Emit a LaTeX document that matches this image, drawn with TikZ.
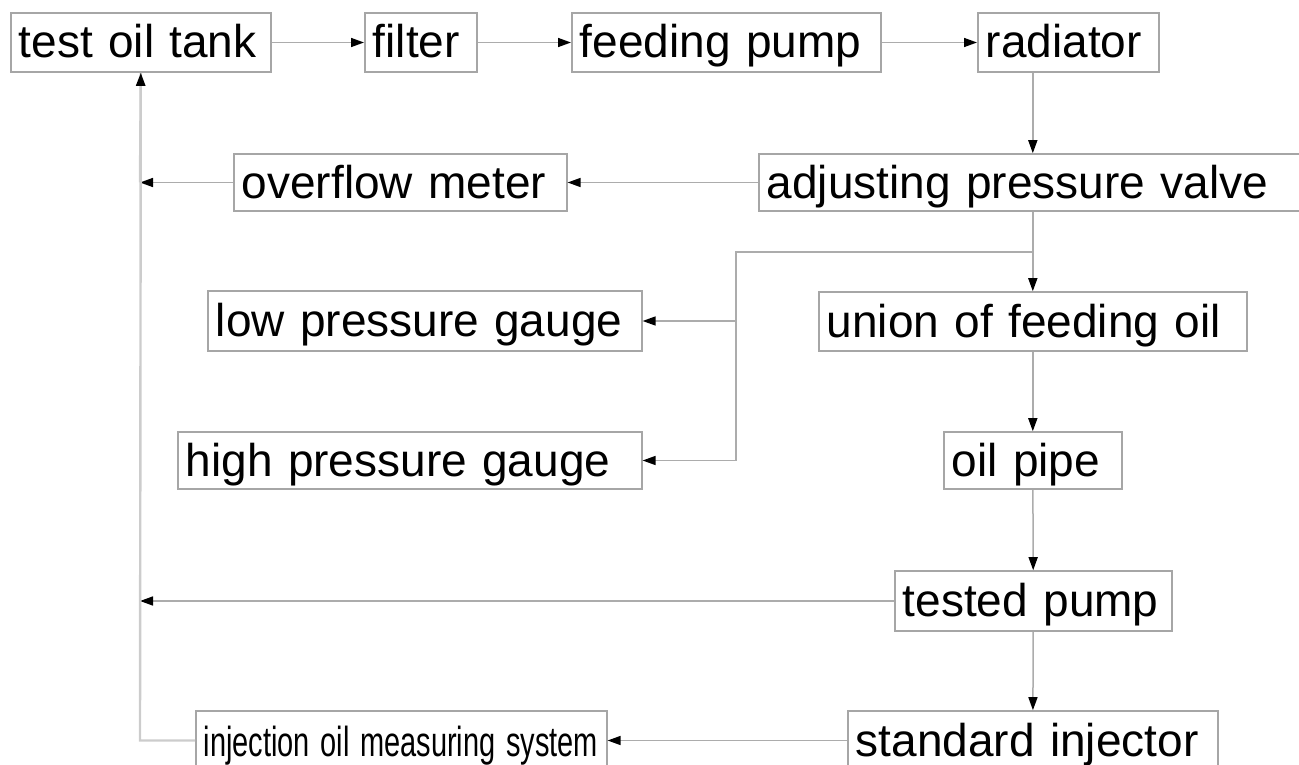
\documentclass[tikz,border=0pt]{standalone}
\usepackage{fontspec}
\setmainfont{Liberation Sans}
\usetikzlibrary{arrows.meta}

\begin{document}
\begin{tikzpicture}[x=1pt, y=-1pt,
    box/.style={draw=gray!70, line width=1.6pt, anchor=west, inner xsep=8pt,
        inner ysep=0pt, align=left, text height=40pt, text depth=9pt,
        font=\fontsize{46pt}{50pt}\selectfont},
    line/.style={draw=gray!65, line width=1.5pt},
    arr/.style={line, -{Triangle[length=13pt, width=9pt, color=black]}},
    back/.style={draw=gray!40, line width=2.4pt}]
        \useasboundingbox (0,0) rectangle (1299,765);

        % boxes: name/left/middle y/width/height/text
        \foreach \nm/\lx/\my/\bw/\bh/\txt in {
            tank/10/42.5/260/59/test oil tank,
            filter/364/42.5/112/59/filter,
            feed/571/42.5/309/59/feeding pump,
            rad/977/42.5/181/59/radiator,
            over/233/182.5/333/57/overflow meter,
            adj/758/182.5/547/57/adjusting pressure valve,
            low/207/321/434/60/low pressure gauge,
            union/818/321.5/428/59/union of feeding oil,
            high/177/460.5/464/57/high pressure gauge,
            pipe/943/460.5/178/57/oil pipe,
            tested/894/601/277/60/tested pump,
            std/847/740.5/370/59/standard injector}
            {
                \pgfmathsetmacro{\tw}{\bw-16}
                \node[box, text width=\tw pt, minimum height=\bh pt] (\nm) at (\lx,\my) {\txt};
            }
        \node[box, text width=395pt, minimum height=59pt] (inj) at (195,740.5)
            {\fontsize{42pt}{46pt}\selectfont\scalebox{0.69}[1]{injection oil measuring system}};

        \coordinate (ret) at (140,400);
        \coordinate (br) at (1032,252);
        \coordinate (bl) at (736,252);

        % top row
        \draw[arr] (tank) -- (filter);
        \draw[arr] (filter) -- (feed);
        \draw[arr] (feed) -- (rad);

        % main line down
        \draw[arr] (rad.south -| pipe) -- (adj.north -| pipe);
        \draw[arr] (adj.south -| union) -- (union.north);
        \draw[arr] (union) -- (pipe);
        \draw[arr] (pipe) -- (tested);
        \draw[arr] (tested) -- (std);

        % gauges
        \draw[line] (br) -- (bl) -- (bl |- high);
        \draw[arr] (bl |- low) -- (low.east);
        \draw[arr] (bl |- high) -- (high.east);

        % return lines
        \draw[arr] (adj) -- (over);
        \draw[arr] (over.west) -- (ret |- over);
        \draw[arr] (tested.west) -- (ret |- tested);
        \draw[arr] (std) -- (inj);
        \draw[back] (inj.west) -- (ret |- inj) -- (tank.south);
        \draw[arr, draw=gray!40, line width=2.4pt] (ret |- over) -- (tank.south);
\end{tikzpicture}
\end{document}
